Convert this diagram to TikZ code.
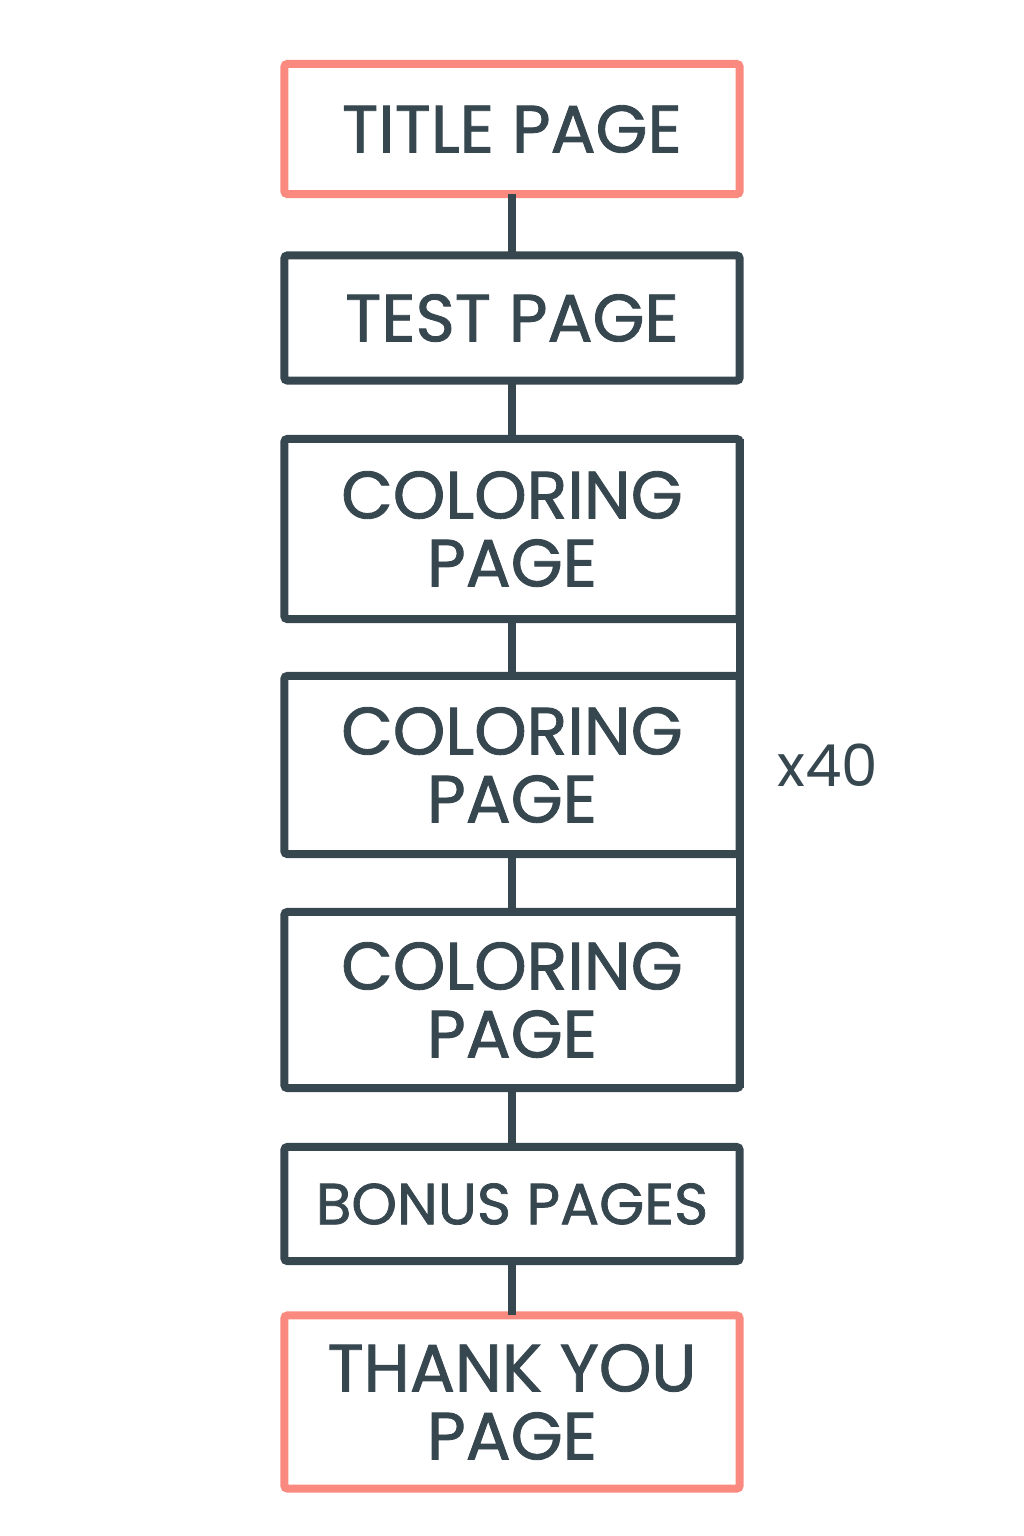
\documentclass[tikz,border=0pt]{standalone}
\usepackage{fontspec}
\setmainfont{Poppins}
\newfontfamily\boxfont{Poppins}[FakeBold=1.3]
\definecolor{slate}{HTML}{37474F}
\definecolor{salmon}{HTML}{FA8A7F}
\tikzset{
  pagebox/.style={draw=slate, line width=0.08cm, rounded corners=0.03cm,
    minimum width=4.55cm, align=center, text=slate, inner sep=0pt, outer sep=0pt,
    font=\boxfont\fontsize{19}{19.35}\selectfont},
  endbox/.style={pagebox, draw=salmon},
  link/.style={draw=slate, line width=0.08cm}
}
\begin{document}
\begin{tikzpicture}[x=0.01cm, y=-0.01cm]
  \useasboundingbox (0,0) rectangle (1024,1536);
  \node[endbox, minimum height=1.30cm] (title) at (512,129) {TITLE PAGE};
  \node[pagebox, minimum height=1.25cm] (test) at (512,318) {TEST PAGE};
  %% the repeated pages
  \node[pagebox, minimum height=1.80cm] (color1) at (512,529) {COLORING\\PAGE};
  \node[pagebox, minimum height=1.78cm] (color2) at (512,765) {COLORING\\PAGE};
  \node[pagebox, minimum height=1.76cm] (color3) at (512,1000) {COLORING\\PAGE};
  \node[pagebox, minimum height=1.14cm, font=\boxfont\fontsize{16.5}{18}\selectfont] (bonus) at (512,1204) {BONUS PAGES};
  \node[endbox, minimum height=1.73cm] (thanks) at (512,1402) {THANK YOU\\PAGE};
  %%
  \draw[link] (title) -- (test);
  \draw[link] (test) -- (color1);
  \draw[link] (color1) -- (color2);
  \draw[link] (color2) -- (color3);
  \draw[link] (color3) -- (bonus);
  \draw[link] (bonus) -- (thanks);
  \draw[link] (color1.north east) -- (color3.south east);
  \node[text=slate, font=\fontsize{16.5}{18}\selectfont] (count) at (828,765) {x40};
\end{tikzpicture}
\end{document}
